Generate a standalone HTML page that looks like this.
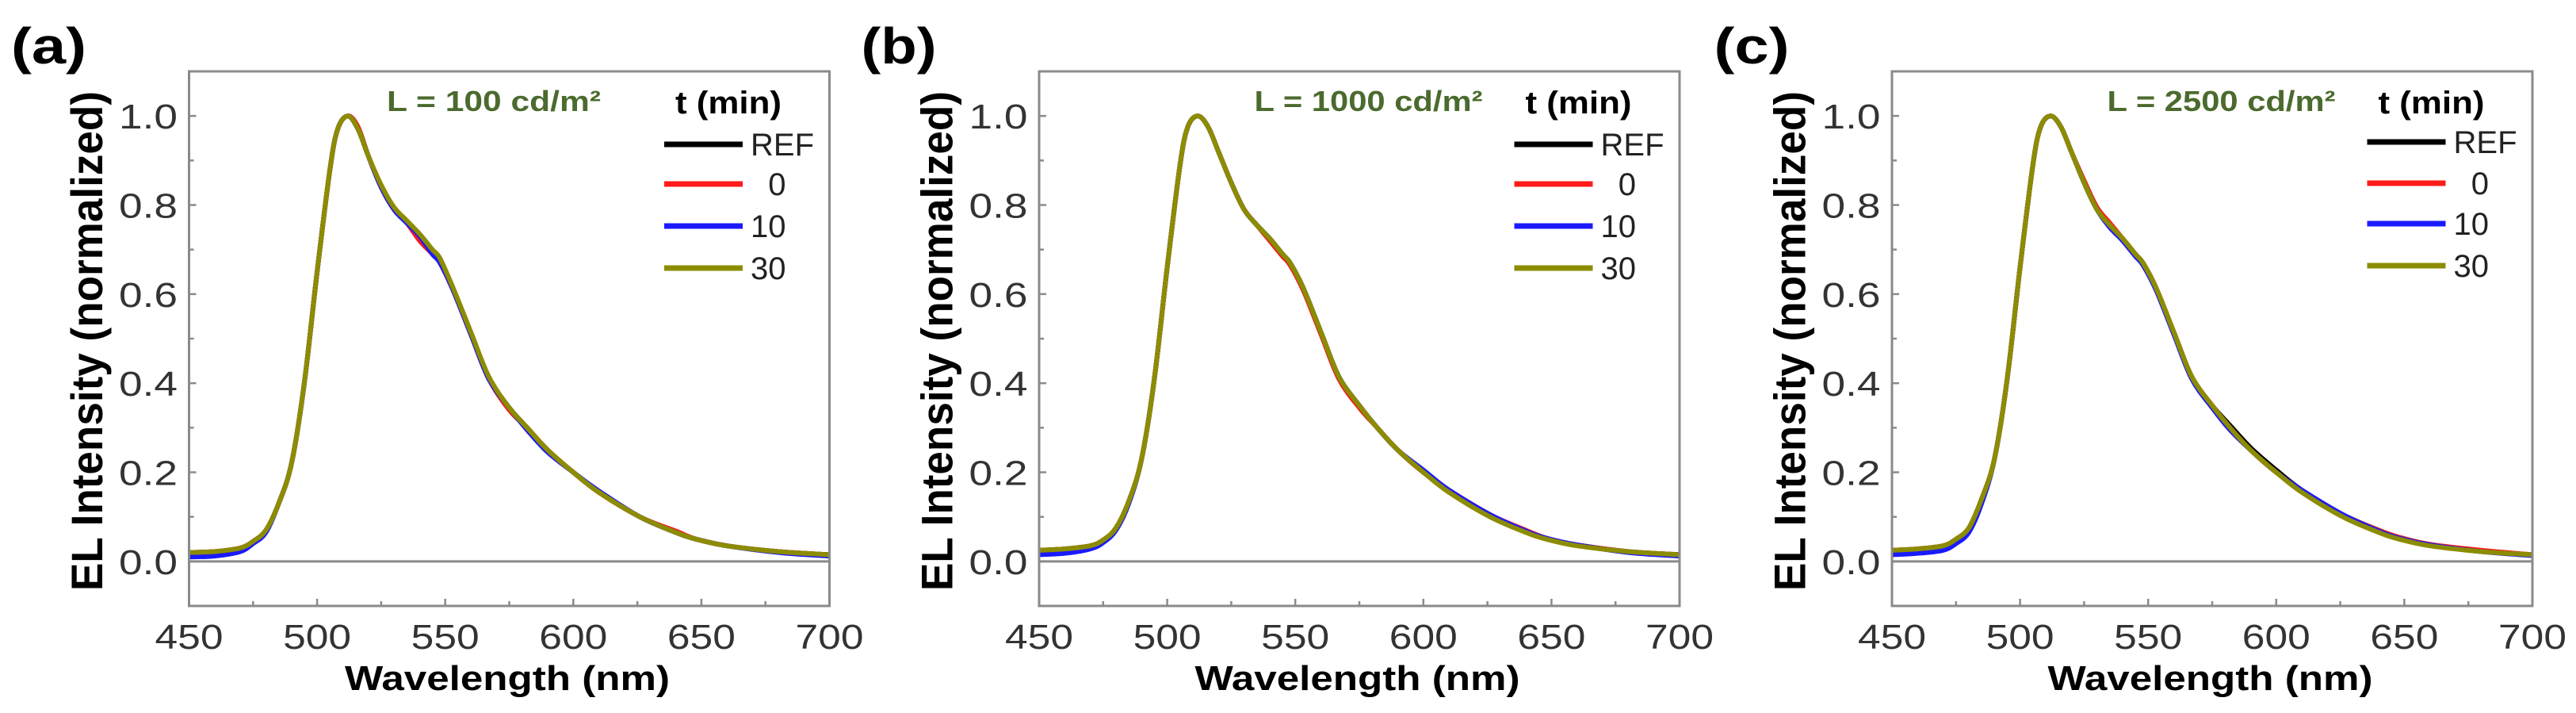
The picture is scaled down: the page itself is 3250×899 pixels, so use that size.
<!DOCTYPE html>
<html><head><meta charset="utf-8"><style>
html,body{margin:0;padding:0;background:#fff;}
svg{display:block;font-family:"Liberation Sans",Arial,sans-serif;}
</style></head><body>
<svg id="chart" width="3250" height="899" viewBox="0 0 3250 899" xmlns="http://www.w3.org/2000/svg"></svg>
<script>
const wavelengths=[450,460,470,475,480,485,490,495,500,505,508,512,516,520,525,530,535,540,545,548,553,560,567,575,582,590,600,610,626,640,648,660,680,700];
const xTicks=[450,500,550,600,650,700];
const yTicks=[0.0,0.2,0.4,0.6,0.8,1.0];
const seriesNames=["REF","0","10","30"];
const seriesColors=["#000000","#ff1a1a","#1a1aff","#8c8c00"];
const panelLabels=["(a)","(b)","(c)"];
const luminanceLabels=["L = 100 cd/m²","L = 1000 cd/m²","L = 2500 cd/m²"];
const a_ref=[0.02,0.022,0.03,0.045,0.07,0.13,0.22,0.40,0.65,0.88,0.97,1.0,0.97,0.91,0.84,0.79,0.76,0.73,0.69,0.67,0.61,0.51,0.41,0.345,0.30,0.25,0.20,0.155,0.10,0.065,0.05,0.035,0.022,0.015];
const a_0  =[0.02,0.022,0.03,0.045,0.07,0.13,0.22,0.40,0.65,0.88,0.97,1.0,0.975,0.91,0.84,0.79,0.76,0.72,0.69,0.67,0.61,0.51,0.41,0.34,0.30,0.25,0.20,0.155,0.10,0.068,0.05,0.035,0.022,0.015];
const a_10 =[0.01,0.012,0.022,0.04,0.065,0.13,0.22,0.40,0.65,0.88,0.97,1.0,0.97,0.91,0.84,0.79,0.76,0.73,0.69,0.67,0.61,0.51,0.41,0.345,0.295,0.245,0.20,0.158,0.10,0.065,0.05,0.035,0.02,0.012];
const a_30 =[0.02,0.022,0.03,0.045,0.07,0.13,0.22,0.40,0.65,0.88,0.97,1.0,0.97,0.91,0.845,0.795,0.765,0.735,0.70,0.68,0.615,0.515,0.415,0.345,0.30,0.25,0.20,0.155,0.10,0.065,0.05,0.035,0.022,0.015];
const b_ref=[0.025,0.028,0.035,0.048,0.075,0.135,0.23,0.41,0.66,0.89,0.975,1.0,0.975,0.92,0.85,0.79,0.755,0.725,0.69,0.67,0.615,0.515,0.415,0.35,0.30,0.25,0.20,0.16,0.105,0.068,0.052,0.037,0.022,0.015];
const b_0  =[0.025,0.028,0.035,0.048,0.075,0.135,0.23,0.41,0.66,0.89,0.975,1.0,0.975,0.92,0.85,0.79,0.755,0.72,0.685,0.665,0.61,0.51,0.41,0.345,0.30,0.25,0.20,0.16,0.105,0.07,0.052,0.037,0.022,0.015];
const b_10 =[0.015,0.018,0.028,0.042,0.07,0.13,0.23,0.41,0.66,0.89,0.975,1.0,0.975,0.92,0.85,0.79,0.755,0.725,0.69,0.67,0.615,0.515,0.415,0.35,0.30,0.25,0.205,0.16,0.105,0.068,0.052,0.037,0.02,0.012];
const b_30 =[0.025,0.028,0.035,0.048,0.075,0.135,0.23,0.41,0.66,0.89,0.975,1.0,0.975,0.92,0.85,0.79,0.755,0.725,0.69,0.67,0.615,0.515,0.415,0.35,0.30,0.25,0.20,0.155,0.10,0.065,0.05,0.035,0.022,0.015];
const c_ref=[0.025,0.028,0.035,0.05,0.075,0.14,0.23,0.41,0.66,0.89,0.975,1.0,0.975,0.92,0.85,0.79,0.755,0.725,0.69,0.67,0.615,0.515,0.415,0.35,0.305,0.255,0.205,0.16,0.105,0.07,0.054,0.038,0.023,0.015];
const c_0  =[0.025,0.028,0.035,0.05,0.075,0.14,0.23,0.41,0.66,0.89,0.975,1.0,0.975,0.92,0.855,0.795,0.76,0.725,0.69,0.67,0.615,0.515,0.415,0.35,0.30,0.25,0.20,0.16,0.105,0.07,0.054,0.038,0.025,0.015];
const c_10 =[0.015,0.018,0.025,0.04,0.065,0.13,0.23,0.41,0.66,0.89,0.975,1.0,0.975,0.92,0.85,0.79,0.75,0.72,0.685,0.665,0.61,0.51,0.41,0.345,0.295,0.25,0.20,0.16,0.105,0.068,0.052,0.037,0.022,0.013];
const c_30 =[0.025,0.028,0.035,0.05,0.075,0.14,0.23,0.41,0.66,0.89,0.975,1.0,0.975,0.92,0.85,0.79,0.755,0.725,0.69,0.67,0.615,0.515,0.415,0.35,0.30,0.25,0.20,0.155,0.10,0.065,0.05,0.035,0.022,0.015];
const panelSeries=[[a_ref,a_0,a_10,a_30],[b_ref,b_0,b_10,b_30],[c_ref,c_0,c_10,c_30]];

const NS="http://www.w3.org/2000/svg";
const svg=document.getElementById('chart');
function mk(tag,attrs,parent,text){const e=document.createElementNS(NS,tag);for(const k in attrs)e.setAttribute(k,attrs[k]);if(text!==undefined)e.textContent=text;parent.appendChild(e);return e;}
const offsets=[0,1072.5,2148.5];
const L=238.5,R=1046.5,T=90,B=764;
const lPos=[[488,758],[510,798],[510,798]];
const legY=[[182,232,285,338],[182,232,285,338],[179,231,282,335]];
function sx(v){return L+(v-450)/250*(R-L);}
function sy(v){return B-(v+0.1)/1.2*(B-T);}
function smooth(pts){let d="M"+pts[0][0].toFixed(1)+","+pts[0][1].toFixed(1);
 for(let i=0;i<pts.length-1;i++){const p0=pts[Math.max(0,i-1)],p1=pts[i],p2=pts[i+1],p3=pts[Math.min(pts.length-1,i+2)];
  const c1x=p1[0]+(p2[0]-p0[0])/6,c1y=p1[1]+(p2[1]-p0[1])/6,c2x=p2[0]-(p3[0]-p1[0])/6,c2y=p2[1]-(p3[1]-p1[1])/6;
  d+=" C"+c1x.toFixed(1)+","+c1y.toFixed(1)+" "+c2x.toFixed(1)+","+c2y.toFixed(1)+" "+p2[0].toFixed(1)+","+p2[1].toFixed(1);}
 return d;}
for(let p=0;p<3;p++){
 const g=mk('g',{transform:'translate('+offsets[p]+',0)'},svg);
 
 
 const pl=mk('text',{x:14,y:80,'font-size':64,'font-weight':'bold',textLength:95,lengthAdjust:'spacingAndGlyphs'},g,panelLabels[p]);
 
 
 const zl=mk('line',{x1:L,x2:R,y1:sy(0),y2:sy(0),stroke:'#8a8a8a','stroke-width':3},g);
 
 
 for(let v=450;v<=700;v+=25){const t=mk('line',{x1:sx(v),x2:sx(v),y1:B,y2:B-(v%50===0?9:6),stroke:'#8a8a8a','stroke-width':2.5},g);
  
  }
 for(let k=-1;k<=11;k++){const v=k/10;const t=mk('line',{x1:L,x2:L+(k%2===0?9:6),y1:sy(v),y2:sy(v),stroke:'#8a8a8a','stroke-width':2.5},g);
  
  }
 xTicks.forEach(v=>{const t=mk('text',{x:sx(v),y:818,'font-size':44,'text-anchor':'middle',fill:'#333',textLength:86,lengthAdjust:'spacingAndGlyphs'},g,String(v));
  
  });
 yTicks.forEach(v=>{const t=mk('text',{x:224,y:sy(v)+16,'font-size':44,'text-anchor':'end',fill:'#333',textLength:74,lengthAdjust:'spacingAndGlyphs'},g,v.toFixed(1));
  
  });
 const xt=mk('text',{x:640,y:870,'font-size':44,'font-weight':'bold','text-anchor':'middle',textLength:410,lengthAdjust:'spacingAndGlyphs'},g,'Wavelength (nm)');
 
 
 const yt=mk('text',{x:0,y:0,'font-size':56,'font-weight':'bold','text-anchor':'middle',textLength:630,lengthAdjust:'spacingAndGlyphs',transform:'translate(129,430) rotate(-90)'},g,'EL Intensity (normalized)');
 
 
 panelSeries[p].forEach((arr,i)=>{const pts=wavelengths.map((w,j)=>[sx(w),sy(arr[j])]);
  const path=mk('path',{d:smooth(pts),fill:'none',stroke:seriesColors[i],'stroke-width':6,'stroke-linejoin':'round'},g);
  
  });
 const fr=mk('rect',{x:L,y:T,width:R-L,height:B-T,fill:'none',stroke:'#8a8a8a','stroke-width':3},g);
 
 
 const ll=mk('text',{x:lPos[p][0],y:140,'font-size':36,'font-weight':'bold',fill:'#4b6b2e',textLength:lPos[p][1]-lPos[p][0],lengthAdjust:'spacingAndGlyphs'},g,luminanceLabels[p]);
 
 
 const lt=mk('text',{x:852,y:143,'font-size':40,'font-weight':'bold',textLength:134,lengthAdjust:'spacingAndGlyphs'},g,'t (min)');
 
 
 seriesNames.forEach((n,i)=>{const y=legY[p][i];
  const ln=mk('line',{x1:838,x2:937,y1:y,y2:y,stroke:seriesColors[i],'stroke-width':7},g);
  
  
  const lab=n==="REF"?"REF":(n.length===1?"\u2007"+n:n);
  const tx=mk('text',{x:947,y:y+14,'font-size':40,fill:'#222'},g,lab);
  
  });
}
</script>
</body></html>
